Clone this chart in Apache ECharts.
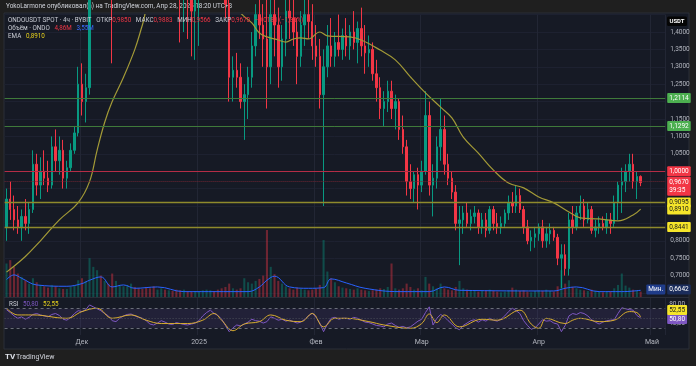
<!DOCTYPE html>
<html><head><meta charset="utf-8">
<script src="https://cdn.jsdelivr.net/npm/echarts@6/dist/echarts.min.js"></script>
<style>html,body{margin:0;padding:0;background:#1f1f1f;}#c{width:696px;height:366px;}</style>
</head><body><div id="c"></div>
<script>
// ---------- DATA ----------
const startDate = [2024, 10, 11];   // 11 Nov 2024 (daily categories)
const dayCount = 175;
const firstOpen = 0.84;
const closePrices = [
 .92,.89,.86,.84,.87,.85,.89,1.02,.96,1.00,
 .98,.96,1.07,1.03,1.06,.98,1.01,1.06,1.11,1.25,
 1.20,1.24,1.62,1.78,1.86,1.82,1.90,1.84,1.52,1.65,
 1.75,1.86,1.95,2.05,1.98,1.92,1.80,1.66,1.62,1.58,
 1.70,1.78,1.72,1.80,1.74,1.65,1.55,1.58,1.52,1.46,
 1.50,1.55,1.62,1.70,1.78,1.72,1.60,1.52,1.48,1.27,
 1.29,1.27,1.20,1.22,1.27,1.36,1.45,1.42,1.38,1.30,
 1.45,1.42,1.30,1.38,1.46,1.44,1.40,1.33,1.42,1.45,
 1.43,1.36,1.33,1.22,1.30,1.36,1.33,1.37,1.35,1.39,
 1.36,1.40,1.37,1.41,1.36,1.34,1.35,1.28,1.24,1.18,
 1.20,1.23,1.18,1.20,1.12,1.07,.97,.95,.99,.96,
 1.00,1.16,.96,.98,1.07,1.12,1.02,.98,.94,.85,
 .86,.88,.85,.87,.88,.84,.86,.83,.89,.85,
 .84,.85,.88,.91,.90,.93,.89,.84,.80,.81,
 .82,.84,.80,.82,.83,.81,.75,.76,.72,.86,
 .84,.88,.90,.86,.89,.83,.84,.85,.84,.86,
 .85,.91,.96,.97,1.00,1.02,.97,.985,.967];
const highPrices = [
 .95,.97,.93,.90,.89,.92,.91,1.06,1.05,1.04,
 1.06,1.03,1.10,1.12,1.10,1.09,1.03,1.08,1.13,1.30,
 1.31,1.28,1.75,1.85,1.95,1.92,1.98,1.94,1.86,1.70,
 1.80,1.92,2.02,2.12,2.10,2.02,1.95,1.82,1.70,1.68,
 1.76,1.85,1.84,1.88,1.86,1.78,1.68,1.64,1.62,1.58,
 1.56,1.60,1.68,1.76,1.85,1.82,1.75,1.64,1.56,1.50,
 1.33,1.34,1.31,1.25,1.30,1.40,1.48,1.52,1.48,1.50,
 1.52,1.55,1.47,1.42,1.50,1.52,1.50,1.44,1.46,1.50,
 1.52,1.48,1.42,1.38,1.35,1.42,1.44,1.40,1.45,1.41,
 1.44,1.42,1.46,1.43,1.47,1.42,1.39,1.37,1.32,1.27,
 1.23,1.26,1.26,1.22,1.21,1.16,1.09,1.02,1.00,1.01,
 1.03,1.23,1.20,1.02,1.10,1.21,1.16,1.05,1.00,.96,
 .90,.90,.91,.89,.90,.89,.88,.88,.90,.90,
 .88,.87,.89,.93,.94,.96,.95,.90,.86,.83,
 .84,.85,.86,.84,.85,.84,.82,.79,.79,.88,
 .90,.90,.93,.92,.91,.90,.86,.87,.87,.88,
 .88,.93,.97,1.01,1.02,1.05,1.05,1.00,.988];
const lowPrices = [
 .80,.86,.83,.82,.80,.83,.82,.88,.93,.92,
 .96,.94,.95,1.00,.99,.95,.95,1.00,1.05,1.10,
 1.16,1.14,1.22,1.58,1.72,1.70,1.78,1.76,1.31,1.46,
 1.60,1.72,1.82,1.92,1.90,1.85,1.74,1.58,1.50,1.48,
 1.55,1.66,1.65,1.70,1.68,1.58,1.37,1.40,1.38,1.33,
 1.32,1.36,1.50,1.58,1.66,1.64,1.52,1.46,1.44,1.20,
 1.20,1.24,1.18,1.09,1.15,1.24,1.33,1.38,1.30,1.18,
 1.25,1.33,1.24,1.26,1.33,1.38,1.36,1.25,1.30,1.36,
 1.38,1.32,1.30,1.18,.90,1.27,1.30,1.30,1.33,1.32,
 1.33,1.32,1.35,1.31,1.33,1.28,1.30,1.26,1.20,1.15,
 1.13,1.17,1.15,1.12,1.09,1.05,.93,.92,.91,.89,
 .94,.99,.93,.87,.95,1.03,.99,.96,.92,.83,
 .73,.82,.84,.83,.85,.82,.82,.81,.82,.83,
 .82,.82,.84,.86,.88,.88,.88,.82,.79,.77,
 .78,.80,.78,.78,.79,.80,.73,.6642,.70,.70,
 .82,.83,.86,.84,.85,.82,.81,.82,.83,.82,
 .82,.84,.86,.88,.94,.97,.95,.92,.957];
const volumes = [
 50,55,45,35,30,25,20,28,22,18,
 16,14,18,16,13,12,12,15,18,25,
 28,24,58,45,40,32,24,20,35,24,
 18,16,18,20,15,13,12,15,13,16,
 11,13,11,10,9,11,10,11,9,8,
 9,8,10,11,10,9,11,13,15,20,
 13,11,13,28,22,20,24,27,32,100,
 45,34,24,20,16,13,11,14,12,11,
 10,11,13,18,85,38,28,22,16,14,
 13,12,11,13,11,10,9,10,11,13,
 12,15,50,13,11,13,20,15,11,13,
 10,30,20,16,13,20,13,11,10,15,
 24,13,11,10,9,8,9,10,11,9,
 8,7,8,10,14,11,9,10,8,7,
 9,10,9,11,9,8,16,40,20,25,
 15,13,11,10,9,11,9,8,7,8,
 9,13,18,35,17,14,11,10,8];
const emaPoints = [[0,.71],[5,.755],[9,.80],[14,.86],[19,.91],[22,.97],[24,1.06],[26,1.14],[28,1.20],[31,1.27],[34,1.35],[36,1.42],[38,1.49],[45,1.58],[52,1.60],[58,1.52],[62,1.455],[65,1.426],[67,1.397],[69,1.386],[72,1.377],[74,1.371],[76,1.38],[78,1.383],[80,1.38],[83,1.40],[85,1.389],[91,1.386],[94,1.377],[99,1.348],[103,1.32],[107,1.271],[111,1.225],[115,1.184],[118,1.153],[121,1.098],[125,1.052],[129,1.003],[133,.966],[137,.952],[141,.926],[145,.909],[149,.883],[152,.866],[157,.863],[162,.857],[166,.874],[168,.891]];
const volMaPoints = [[0,26],[2,33],[4,28],[8,18],[16,16],[20,20],[22,25],[25,30],[28,15],[31,18],[34,13],[40,15],[47,8],[64,8],[67,15],[69,25],[71,31],[75,15],[80,13],[84,14],[86,27],[90,21],[95,13],[104,8],[112,8],[116,15],[120,10],[145,9],[148,13],[151,15],[157,8],[163,8],[168,10]];
const rsiValues = [
 68,62,55,50,53,48,52,58,60,57,
 55,53,58,60,56,48,46,52,60,66,
 64,68,78,74,70,66,60,55,45,43,
 50,55,58,59,55,52,50,45,38,36,
 40,45,42,38,37,41,39,37,36,38,
 40,45,55,62,67,60,56,48,35,22,
 30,36,34,38,42,48,45,44,40,43,
 53,50,46,48,44,46,43,40,42,48,
 55,61,52,40,22,38,50,52,48,50,
 50,48,52,50,46,42,41,38,35,34,
 32,38,40,35,31,33,30,32,38,44,
 48,62,74,36,50,58,53,45,38,30,
 26,35,40,45,47,42,47,44,50,46,
 44,48,55,64,71,66,60,45,35,27,
 30,38,47,44,45,40,38,22,35,55,
 60,58,62,60,55,47,42,38,42,45,
 46,47,60,72,70,68,67,56,50.8];
const rsiMaPoints = [[0,71],[3,57],[7,57],[16,50],[20,64],[24,71],[28,50],[33,57],[37,46],[41,39],[48,39],[52,46],[55,60],[57,46],[60,24],[63,38],[67,43],[70,57],[74,46],[78,43],[81,60],[84,32],[87,50],[90,50],[96,43],[100,36],[107,29],[110,39],[112,59],[114,41],[116,57],[120,32],[126,48],[130,46],[136,67],[139,38],[141,29],[143,50],[148,39],[150,46],[152,50],[157,43],[161,46],[165,64],[167,62],[168,52.55]];
const priceTickLabels = [0.70,0.75,0.80,1.05,1.10,1.15,1.25,1.30,1.35,1.40];
const rsiTickLabels = [40,80];
const levelLines = [
  {v:1.2114, kind:'green'}, {v:1.1292, kind:'green'}, {v:1.0000, kind:'red'},
  {v:0.9095, kind:'yellow'}, {v:0.8441, kind:'yellow'}];
const lastPrice = 0.9670, countdown = '39:35', emaLast = 0.8910, visibleLow = 0.6642;
const rsiLast = 50.80, rsiMaLast = 52.55;
const monthNames = {'2024-12-01':'Дек','2025-01-01':'2025','2025-02-01':'Фев','2025-03-01':'Мар','2025-04-01':'Апр','2025-05-01':'Май'};

// ---------- BUILD ----------
const categories = [];
{ const t0 = Date.UTC(startDate[0], startDate[1], startDate[2]);
  for (let i = 0; i < dayCount; i++) categories.push(new Date(t0 + i*86400000).toISOString().slice(0,10)); }
const candles = [];
const volData = [];
const UP = '#089981', DOWN = '#f23645';
for (let i = 0; i < closePrices.length; i++) {
  const o = i === 0 ? firstOpen : closePrices[i-1];
  candles.push([o, closePrices[i], lowPrices[i], highPrices[i]]);
  volData.push({value: volumes[i], itemStyle: {color: closePrices[i] >= o ? 'rgba(8,153,129,0.4)' : 'rgba(242,54,69,0.4)'}});
}
const pts = a => a.map(p => [categories[p[0]], p[1]]);
const fmt4 = v => v.toFixed(4).replace('.', ',');
const fmt2 = v => v.toFixed(2).replace('.', ',');
const FONT = 'Roboto, sans-serif';
const lineColors = {green:'#3f7a3a', red:'#b52d46', yellow:'#8f8a2c'};
const boxColors = {green:['#4caf50','#fff'], red:['#f23645','#fff'], yellow:['#f5e52a','#1a1a1a']};
function boxLabel(text, bg, fg, extra) {
  return Object.assign({show:true, position:'end', distance:2, formatter:text, backgroundColor:bg, color:fg,
    fontSize:6.5, fontFamily:FONT, padding:[2,2,1,2], borderRadius:1}, extra||{});
}
const mlData = levelLines.map(l => ({
  yAxis: l.v,
  lineStyle: {color: lineColors[l.kind], width: l.kind==='yellow'?1.4:1, type:'solid'},
  label: boxLabel(fmt4(l.v), boxColors[l.kind][0], boxColors[l.kind][1])
}));
mlData.push({yAxis:lastPrice, lineStyle:{color:'#6e2633', width:1, type:'dotted'},
  label: boxLabel(fmt4(lastPrice)+'\n'+countdown, '#f23645', '#fff', {lineHeight:8, offset:[0,4.5]})});
mlData.push({yAxis:visibleLow, lineStyle:{color:'transparent', width:0},
  label: boxLabel('Мин.', '#1f3c8a', '#fff', {position:'insideEnd', distance:0})});
mlData.push({yAxis:visibleLow, lineStyle:{color:'transparent', width:0},
  label: boxLabel(fmt4(visibleLow), '#1b2d5c', '#fff')});

const monthInterval = (idx, val) => !!monthNames[val];
const F = '6.3px ' + FONT;

const option = {
  backgroundColor: '#1f1f1f',
  animation: false,
  textStyle: {fontFamily: FONT},
  graphic: [
    {type:'rect', z:-10, silent:true, shape:{x:4, y:13, width:685, height:336}, style:{fill:'#161a25', stroke:'#2a2e39', lineWidth:1}},
    {type:'text', left:6, top:3.5, style:{text:'YokoLarmone опубликовал(а) на TradingView.com, Апр 28, 2025 18:20 UTC+3', fill:'#d1d4dc', font:'6.4px '+FONT}},
    {type:'text', left:8, top:17, z:50, style:{
      text:'{g|ONDOUSDT SPOT · 4ч · BYBIT   ОТКР}{r|0,9850}{g|   МАКС}{r|0,9883}{g|   МИН}{r|0,9566}{g|   ЗАКР}{r|0,9670}{r|   −0,0180 (−1,83%)}',
      font:F, rich:{g:{fill:'#c9ccd4', font:F}, r:{fill:'#f23645', font:F}}}},
    {type:'text', left:8, top:25.5, z:50, style:{
      text:'{g|Объём · ONDO   }{r|4,86M}{g|   }{b|3,55M}',
      font:F, rich:{g:{fill:'#c9ccd4', font:F}, r:{fill:'#f23645', font:F}, b:{fill:'#3b6cff', font:F}}}},
    {type:'text', left:8, top:33.5, z:50, style:{
      text:'{g|EMA   }{y|0,8910}',
      font:F, rich:{g:{fill:'#c9ccd4', font:F}, y:{fill:'#e8d21d', font:F}}}},
    {type:'text', left:9, top:301, z:50, style:{
      text:'{g|RSI   }{p|50,80}{g|   }{y|52,55}',
      font:F, rich:{g:{fill:'#c9ccd4', font:F}, p:{fill:'#7e57c2', font:F}, y:{fill:'#e8d21d', font:F}}}},
    {type:'group', left:667, top:16.5, z:50, children:[
      {type:'rect', shape:{x:0, y:0, width:20, height:9.5, r:1.5}, style:{fill:'#050505'}},
      {type:'text', style:{text:'USDT', fill:'#fff', font:'bold 6px '+FONT, x:10, y:5, align:'center', verticalAlign:'middle'}}
    ]},
    {type:'line', z:40, silent:true, shape:{x1:4, y1:297.5, x2:689, y2:297.5}, style:{stroke:'#2a2e39', lineWidth:1}},
    {type:'text', left:5, top:353, style:{text:'TV', fill:'#e0e3eb', font:'bold 8px '+FONT}},
    {type:'text', left:16, top:353.5, style:{text:'TradingView', fill:'#d1d4dc', font:'7px '+FONT}}
  ],
  grid: [
    {left:4.6, top:14.6, width:660.6, height:278.4},
    {left:4.6, top:230, width:660.6, height:67},
    {left:4.6, top:298, width:660.6, height:37}
  ],
  xAxis: [0,1,2].map(g => ({
    type:'category', gridIndex:g, data:categories, boundaryGap:true,
    axisLine:{show:false}, axisTick:{show:false},
    axisLabel: g===2 ? {show:true, interval:monthInterval, formatter:v => monthNames[v]||'', color:'#b2b5be', fontSize:7, margin:4} : {show:false},
    splitLine: g===1 ? {show:false} : {show:true, interval:monthInterval, lineStyle:{color:'#222634', width:1}}
  })),
  yAxis: [
    {type:'value', gridIndex:0, position:'right', min:0.65, max:1.45, interval:0.05, scale:true,
     axisLine:{show:false}, axisTick:{show:false},
     axisLabel:{customValues:priceTickLabels, formatter:fmt4, color:'#b2b5be', fontSize:6.5, margin:5},
     splitLine:{show:true, lineStyle:{color:'#1d2130'}}},
    {type:'value', gridIndex:1, min:0, max:100, show:false, splitLine:{show:false}},
    {type:'value', gridIndex:2, position:'right', min:15, max:92.5,
     axisLine:{show:false}, axisTick:{show:false}, splitLine:{show:false},
     axisLabel:{customValues:rsiTickLabels, formatter:fmt2, color:'#b2b5be', fontSize:6.5, margin:4}}
  ],
  series: [
    {type:'bar', xAxisIndex:1, yAxisIndex:1, data:volData, barWidth:'55%', z:1},
    {type:'line', xAxisIndex:1, yAxisIndex:1, data:pts(volMaPoints), smooth:0.4, showSymbol:false,
     lineStyle:{color:'#2962ff', width:1}, z:2},
    {type:'candlestick', xAxisIndex:0, yAxisIndex:0, data:candles, barWidth:'52%', z:3,
     itemStyle:{color:UP, color0:DOWN, borderColor:UP, borderColor0:DOWN, borderWidth:1},
     markLine:{silent:true, symbol:['none','none'], animation:false, data:mlData}},
    {type:'line', xAxisIndex:0, yAxisIndex:0, data:pts(emaPoints), smooth:0.4, showSymbol:false, z:4,
     lineStyle:{color:'#a39a37', width:1.2},
     markLine:{silent:true, symbol:['none','none'], data:[{yAxis:emaLast, lineStyle:{color:'transparent', width:0},
       label: boxLabel(fmt4(emaLast), '#f5e52a', '#1a1a1a')}]}},
    {type:'line', xAxisIndex:2, yAxisIndex:2, data:rsiValues, showSymbol:false, z:3,
     lineStyle:{color:'#7e57c2', width:1},
     markArea:{silent:true, itemStyle:{color:'rgba(126,87,194,0.12)'}, data:[[{yAxis:30},{yAxis:70}]]},
     markLine:{silent:true, symbol:['none','none'], data:[
       {yAxis:70, lineStyle:{color:'#6a6d78', type:[3,3], width:1}, label:{show:false}},
       {yAxis:50, lineStyle:{color:'#4a4d58', type:[1,2], width:1}, label:{show:false}},
       {yAxis:30, lineStyle:{color:'#6a6d78', type:[3,3], width:1}, label:{show:false}},
       {yAxis:rsiLast, lineStyle:{color:'transparent', width:0}, label: boxLabel(fmt2(rsiLast), '#7e57c2', '#fff', {offset:[0,1]})}
     ]}},
    {type:'line', xAxisIndex:2, yAxisIndex:2, data:pts(rsiMaPoints), smooth:0.4, showSymbol:false, z:4,
     lineStyle:{color:'#d8ad2e', width:1},
     markLine:{silent:true, symbol:['none','none'], data:[
       {yAxis:rsiMaLast, lineStyle:{color:'transparent', width:0}, label: boxLabel(fmt2(rsiMaLast), '#f5e52a', '#1a1a1a', {offset:[0,-7]})}
     ]}}
  ]
};
const chart = echarts.init(document.getElementById('c'), null, {renderer:'canvas', width:696, height:366});
chart.setOption(option);
</script></body></html>
